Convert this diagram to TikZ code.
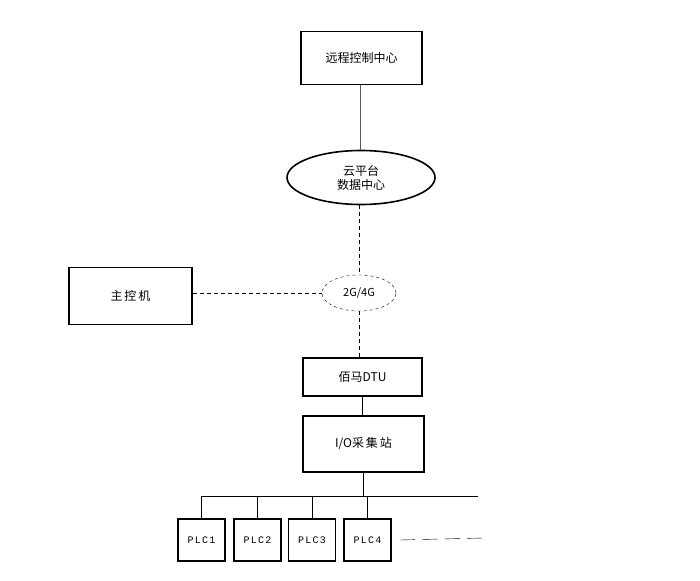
\documentclass[tikz,border=0pt]{standalone}
\usepackage{fontspec}
\newfontfamily\cjk{Noto Sans CJK SC}
\newfontfamily\plcfont[LetterSpace=12]{Liberation Mono}
\usetikzlibrary{shapes.geometric,positioning}

\begin{document}
\begin{tikzpicture}[x=1pt,y=-1pt,semithick,
    box/.style={draw,line width=1.6pt,rectangle,inner sep=0pt,font=\cjk\fontsize{12}{14}\selectfont},
    cloudnode/.style={draw,line width=1.6pt,ellipse,inner sep=0pt,minimum width=148pt,minimum height=54pt,align=center,font=\cjk\fontsize{12}{14}\selectfont},
    netnode/.style={draw,dashed,thin,ellipse,inner sep=0pt,minimum width=74pt,minimum height=36pt,font=\cjk\fontsize{11}{12}\selectfont},
    plcbox/.style={draw,line width=1.6pt,rectangle,inner sep=0pt,minimum width=47pt,minimum height=42pt,font=\plcfont\fontsize{10}{11}\selectfont},
    link/.style={thin,gray!70!black},
    radio/.style={line width=0.7pt,dash pattern=on 4pt off 3pt}]
        \useasboundingbox (0,0) rectangle (700,580);

        \node[box,minimum width=121pt,minimum height=53pt] (remote) at (361.5,58) {远程控制中心};
        \node[cloudnode] (cloud) at (361,177.5) {云平台\\数据中心};
        \node[netnode] (net) at (359,293) {2G/4G};
        \node[box,minimum width=123pt,minimum height=57pt] (host) at (130.5,296) {主\,控\,机};
        \node[box,minimum width=119pt,minimum height=38pt] (dtu) at (362.5,377) {佰马DTU};
        \node[box,minimum width=121pt,minimum height=56pt] (io) at (363.5,444) {I/O采\,集\,站};

        \node[plcbox] (plc1) at (201.5,540) {PLC1};
        \node[plcbox] (plc2) at (257.5,540) {PLC2};
        \node[plcbox] (plc3) at (312,540) {PLC3};
        \node[plcbox] (plc4) at (367.5,540) {PLC4};

        \coordinate (busL) at (201.5,496);
        \coordinate (busR) at (478,496);
        \coordinate (more) at (483,538);

        \path[link] (remote.south -| 360,0) edge (cloud.north -| 360,0);
        \path[radio] (cloud.south -| net.north) edge (net.north);
        \path[radio] (host.east |- net.west) edge (net.west);
        \path[radio] (net.south) edge (net.south |- dtu.north);
        \path[line width=1.6pt] (dtu.south) edge (dtu.south |- io.north);
        \path[thin] (io.south) edge (io.south |- busL);
        \path[thin] (busL) edge (busR);
        \path[thin] (busL) edge (plc1.north);
        \path[thin] (plc2.north |- busL) edge (plc2.north);
        \path[thin] (plc3.north |- busL) edge (plc3.north);
        \path[thin] (plc4.north |- busL) edge (plc4.north);
        \path[thin,dash pattern=on 15pt off 7.5pt] ([xshift=8pt]plc4.east) edge (more);
    \end{tikzpicture}
\end{document}
